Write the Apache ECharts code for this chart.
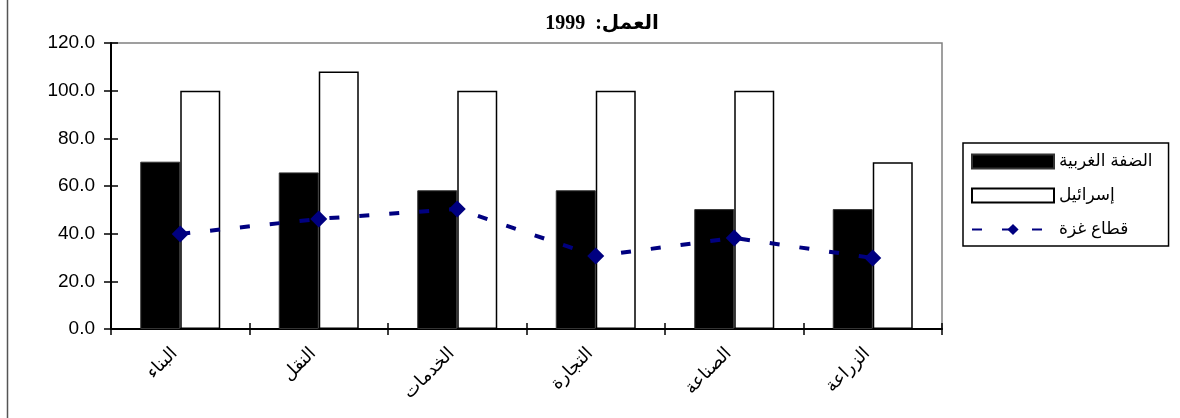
<!DOCTYPE html>
<html><head><meta charset="utf-8">
<script src="https://cdn.jsdelivr.net/npm/echarts@6/dist/echarts.min.js"></script>
<style>html,body{margin:0;padding:0;background:#fff}#c{width:1180px;height:418px}</style>
</head><body><div id="c"></div>
<script>
const titleText = 'العمل:  1999';
const categories = ['البناء','النقل','الخدمات','التجارة','الصناعة','الزراعة'];
const westBank = [70.2, 65.7, 58.2, 58.2, 50.3, 50.3];
const israel = [100, 108, 100, 100, 100, 70];
const gaza = [39.9, 46.2, 50.4, 30.6, 38.2, 29.8];
const seriesNames = ['الضفة الغربية','إسرائيل','قطاع غزة'];
const yTicks = {min: 0, max: 120, interval: 20};

const chart = echarts.init(document.getElementById('c'), null, {renderer: 'canvas'});
const arFont = 'Arial, "Liberation Sans", "DejaVu Sans", sans-serif';
chart.setOption({
  animation: false,
  backgroundColor: '#fff',
  title: {
    text: titleText, left: 597, top: 9, textAlign: 'center',
    textStyle: {fontFamily: '"Liberation Serif", "Times New Roman", "DejaVu Sans", serif', fontWeight: 'bold', fontSize: 20, color: '#000'}
  },
  graphic: [{type: 'line', shape: {x1: 7.5, y1: 0, x2: 7.5, y2: 418}, style: {stroke: '#555', lineWidth: 1.5}}],
  grid: {left: 111, right: 238, top: 43, bottom: 89, show: true, borderColor: '#808080', borderWidth: 1.5, backgroundColor: '#fff'},
  legend: {
    orient: 'vertical', left: 963, top: 143,
    padding: [10, 16, 8, 8], itemGap: 17, itemWidth: 82, itemHeight: 14,
    borderColor: '#000', borderWidth: 1.5, backgroundColor: '#fff',
    textStyle: {fontFamily: arFont, fontSize: 17, color: '#000'},
    data: [
      {name: seriesNames[0], icon: 'rect'},
      {name: seriesNames[1], icon: 'rect'},
      {name: seriesNames[2]}
    ]
  },
  xAxis: [{
    type: 'category', data: categories,
    axisLine: {lineStyle: {color: '#000', width: 2}},
    axisTick: {show: true, length: 6, lineStyle: {color: '#000', width: 1.5}},
    axisLabel: {interval: 0, rotate: 45, margin: 16, padding: [0, 8, 0, 0], fontFamily: arFont, fontSize: 18, color: '#000'}
  }, {
    type: 'category', data: categories, position: 'bottom',
    axisLine: {show: false},
    axisTick: {show: true, inside: true, length: 6, lineStyle: {color: '#000', width: 1.5}},
    axisLabel: {show: false}
  }],
  yAxis: [{
    type: 'value', min: yTicks.min, max: yTicks.max, interval: yTicks.interval,
    axisLine: {show: true, lineStyle: {color: '#000', width: 2}},
    axisTick: {show: true, length: 7, lineStyle: {color: '#000', width: 1.5}},
    splitLine: {show: false},
    axisLabel: {margin: 16, fontFamily: 'Arial, "Liberation Sans", sans-serif', fontSize: 19, color: '#000', formatter: v => v.toFixed(1)}
  }, {
    type: 'value', min: yTicks.min, max: yTicks.max, interval: yTicks.interval, position: 'left',
    axisLine: {show: false},
    axisTick: {show: true, inside: true, length: 7, lineStyle: {color: '#000', width: 1.5}},
    splitLine: {show: false}, axisLabel: {show: false}
  }],
  series: [
    {name: seriesNames[0], type: 'bar', data: westBank, barWidth: 40, barGap: '0%',
     itemStyle: {color: '#000', borderColor: '#333', borderWidth: 1}},
    {name: seriesNames[1], type: 'bar', data: israel, barWidth: 40, barGap: '0%',
     itemStyle: {color: '#fff', borderColor: '#000', borderWidth: 1.5}},
    {name: seriesNames[2], type: 'line', data: gaza, z: 5,
     symbol: 'diamond', symbolSize: 17, showAllSymbol: true,
     lineStyle: {color: '#000080', width: 4, type: [10, 20]},
     itemStyle: {color: '#000080'}}
  ]
});
</script></body></html>
